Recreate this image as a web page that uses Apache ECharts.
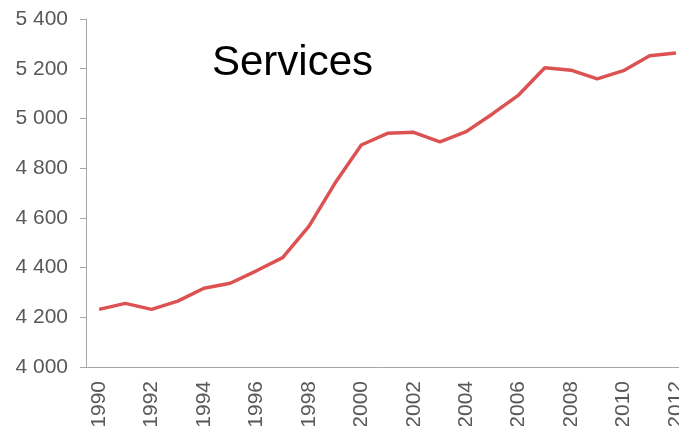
<!DOCTYPE html>
<html>
<head>
<meta charset="utf-8">
<script src="https://cdn.jsdelivr.net/npm/echarts@6/dist/echarts.min.js"></script>
<style>html,body{margin:0;padding:0;background:#fff;}#c{width:679px;height:426px;}</style>
</head>
<body>
<div id="c"></div>
<script>
var years = ['1990','1991','1992','1993','1994','1995','1996','1997','1998','1999','2000','2001','2002','2003','2004','2005','2006','2007','2008','2009','2010','2011','2012'];
var services = [4232,4256,4232,4265,4317,4337,4387,4440,4566,4740,4893,4940,4944,4906,4947,5018,5094,5204,5194,5159,5192,5252,5263];
var titleText = 'Services';
var yMin = 4000, yMax = 5400, yStep = 200;

var chart = echarts.init(document.getElementById('c'), null, {renderer:'canvas'});
var font = 'Liberation Sans, Arial, sans-serif';
chart.setOption({
  animation:false,
  backgroundColor:'#fff',
  title:{text:titleText,left:207,top:37,textStyle:{fontFamily:font,fontSize:42,fontWeight:'normal',color:'#000'}},
  grid:{left:86,top:19,width:603,height:348,containLabel:false,outerBoundsMode:'none'},
  xAxis:{type:'category',data:years,boundaryGap:true,
    axisLine:{lineStyle:{color:'#a6a6a6',width:1}},
    axisTick:{interval:0,length:6,lineStyle:{color:'#a6a6a6'}},
    axisLabel:{interval:1,rotate:90,margin:14,fontFamily:font,fontSize:21,color:'#595959',hideOverlap:false},
    splitLine:{show:false}},
  yAxis:{type:'value',min:yMin,max:yMax,interval:yStep,
    axisLine:{show:true,lineStyle:{color:'#a6a6a6',width:1}},
    axisTick:{show:true,length:6,lineStyle:{color:'#a6a6a6'}},
    axisLabel:{margin:18,fontFamily:font,fontSize:21,color:'#595959',
      formatter:function(v){return String(v).replace(/\B(?=(\d{3})+(?!\d))/g,' ');}},
    splitLine:{show:false}},
  series:[{type:'line',data:services,symbol:'none',smooth:false,
    lineStyle:{color:'#dc5252',width:3.5}}]
});
</script>
</body>
</html>
